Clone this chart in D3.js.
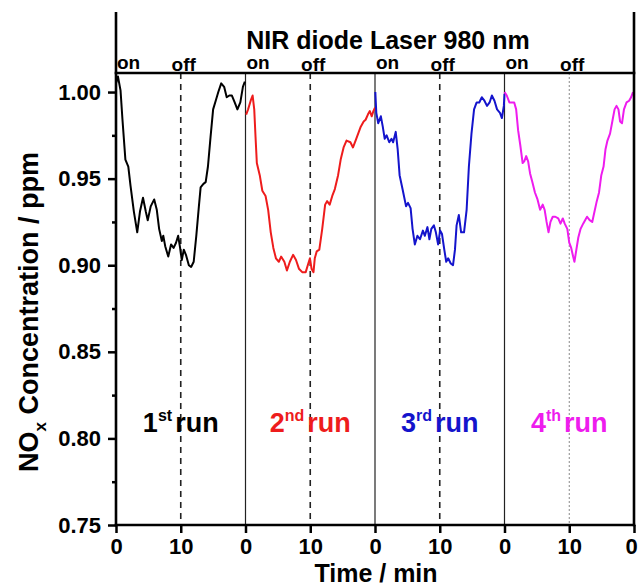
<!DOCTYPE html>
<html>
<head>
<meta charset="utf-8">
<script src="https://cdn.jsdelivr.net/npm/d3@7"></script>
<style>
  html, body { margin: 0; padding: 0; background: #fff; }
  svg text { font-family: Arial, "Liberation Sans", sans-serif; font-weight: bold; }
</style>
</head>
<body>
<svg id="chart" width="639" height="588"></svg>
<script>
// NOx concentration traces over four laser on/off cycles (t in min within each run)
const run1 = [[0,1.005],[0.3,1.009],[0.7,1.001],[1.0,0.984],[1.45,0.961],[1.9,0.957],[2.24,0.946],[2.76,0.931],
  [3.28,0.919],[3.7,0.931],[4.17,0.939],[4.6,0.931],[4.9,0.926],[5.36,0.934],[5.9,0.938],[6.3,0.932],
  [6.66,0.921],[7.08,0.914],[7.3,0.917],[7.6,0.911],[8.07,0.905],[8.5,0.912],[8.9,0.910],[9.27,0.913],
  [9.6,0.917],[9.9,0.910],[10.16,0.903],[10.47,0.909],[10.8,0.906],[11.25,0.900],[11.6,0.899],[12.0,0.902],
  [12.4,0.917],[12.8,0.934],[13.07,0.945],[13.5,0.947],[13.85,0.948],[14.2,0.957],[14.6,0.974],[15.0,0.990],
  [15.4,0.995],[15.8,1.000],[16.25,1.005],[16.7,1.003],[17.1,0.997],[17.5,0.998],[17.9,0.998],[18.33,0.994],
  [18.75,0.990],[19.2,0.994],[19.6,1.003],[19.9,1.006]];
const run2 = [[0.1,0.987],[0.4,0.990],[0.8,0.995],[1.1,0.998],[1.35,0.990],[1.55,0.974],[1.75,0.959],[2.2,0.952],
  [2.6,0.943],[3.1,0.940],[3.5,0.932],[3.9,0.919],[4.3,0.910],[4.7,0.904],[5.15,0.902],[5.5,0.905],
  [6.0,0.902],[6.4,0.897],[6.85,0.902],[7.35,0.906],[7.8,0.903],[8.25,0.898],[8.76,0.896],[9.3,0.896],
  [9.7,0.901],[9.95,0.904],[10.2,0.898],[10.5,0.896],[10.7,0.904],[11.0,0.908],[11.4,0.909],[11.85,0.921],
  [12.3,0.935],[12.6,0.937],[13.0,0.935],[13.4,0.940],[13.8,0.944],[14.3,0.952],[14.7,0.961],[15.15,0.968],
  [15.6,0.972],[16.2,0.971],[16.6,0.968],[17.0,0.972],[17.4,0.976],[17.8,0.980],[18.25,0.983],[18.55,0.984],
  [18.9,0.987],[19.2,0.989],[19.5,0.986],[19.75,0.989],[20.0,0.991]];
const run3 = [[0.05,1.000],[0.2,0.988],[0.5,0.982],[0.9,0.986],[1.2,0.980],[1.5,0.973],[1.8,0.975],[2.2,0.971],
  [2.55,0.973],[2.8,0.971],[3.2,0.977],[3.5,0.967],[3.8,0.952],[4.25,0.944],[4.8,0.934],[5.1,0.936],
  [5.5,0.933],[5.8,0.921],[6.15,0.912],[6.55,0.917],[6.95,0.915],[7.4,0.920],[7.7,0.917],[8.1,0.922],
  [8.4,0.915],[8.7,0.921],[9.1,0.923],[9.4,0.919],[9.75,0.912],[10.05,0.920],[10.35,0.918],[10.7,0.909],
  [11.0,0.902],[11.3,0.904],[11.7,0.901],[12.05,0.900],[12.35,0.909],[12.6,0.923],[12.95,0.929],[13.3,0.919],
  [13.75,0.919],[14.15,0.932],[14.5,0.957],[14.9,0.976],[15.3,0.990],[15.7,0.994],[16.1,0.994],[16.5,0.997],
  [16.9,0.995],[17.3,0.992],[17.7,0.994],[18.05,0.998],[18.45,0.995],[18.85,0.990],[19.3,0.988],[19.6,0.985],
  [19.9,0.992],[20.0,0.999]];
const run4 = [[0,1.000],[0.35,0.998],[0.75,0.994],[1.1,0.994],[1.5,0.994],[1.8,0.990],[2.1,0.978],[2.45,0.969],
  [2.8,0.959],[3.05,0.960],[3.35,0.963],[3.65,0.960],[3.95,0.953],[4.3,0.948],[4.7,0.942],[5.1,0.938],
  [5.5,0.932],[5.9,0.935],[6.2,0.932],[6.5,0.925],[6.8,0.919],[7.1,0.925],[7.45,0.928],[7.85,0.928],
  [8.3,0.927],[8.65,0.924],[9.0,0.927],[9.3,0.924],[9.7,0.921],[10.0,0.913],[10.3,0.910],[10.6,0.905],
  [10.8,0.902],[11.1,0.909],[11.4,0.916],[11.75,0.921],[12.15,0.924],[12.45,0.926],[12.75,0.928],[13.15,0.926],
  [13.55,0.925],[13.9,0.931],[14.25,0.937],[14.6,0.942],[14.95,0.952],[15.3,0.957],[15.6,0.967],[15.9,0.972],
  [16.3,0.976],[16.7,0.984],[17.0,0.990],[17.3,0.992],[17.6,0.990],[17.85,0.983],[18.15,0.982],[18.45,0.990],
  [18.85,0.994],[19.25,0.995],[19.55,0.997],[19.85,1.000]];

const runs = [run1, run2, run3, run4];
const runColors = ["#000000", "#ee1c1c", "#1414cc", "#ee1cee"];
const runOrdinals = ["1", "2", "3", "4"];
const runSuffixes = ["st", "nd", "rd", "th"];
const runDuration = 20;          // minutes per cycle
const offTime = 10;              // laser switched off at 10 min
const xTickValues = [0, 10, 20, 30, 40, 50, 60, 70, 80];
const xTickLabels = ["0", "10", "0", "10", "0", "10", "0", "10", "0"];
const yMajorTicks = [0.75, 0.80, 0.85, 0.90, 0.95, 1.00];
const yMinorTicks = [0.775, 0.825, 0.875, 0.925, 0.975];
const yMax = 1.011;

const svg = d3.select("#chart");
const left = 116, right = 634, bottom = 525, plotTop = 73, frameTop = 12;

const x = d3.scaleLinear().domain([0, runDuration * runs.length]).range([left, right]);
const y = d3.scaleLinear().domain([0.75, yMax]).range([bottom, plotTop]);

// run separators (solid) and laser-off markers (dashed)
for (let i = 1; i < runs.length; i++) {
  svg.append("line")
    .attr("x1", x(i * runDuration)).attr("x2", x(i * runDuration))
    .attr("y1", plotTop).attr("y2", bottom)
    .attr("stroke", "#222").attr("stroke-width", 1.2);
}
runs.forEach((r, i) => {
  const last = i === runs.length - 1;
  svg.append("line")
    .attr("x1", x(i * runDuration + offTime)).attr("x2", x(i * runDuration + offTime))
    .attr("y1", plotTop).attr("y2", bottom)
    .attr("stroke", last ? "#888" : "#222")
    .attr("stroke-width", last ? 1 : 1.6)
    .attr("stroke-dasharray", last ? "2,2" : "6,5");
});

// concentration traces
const line = d3.line()
  .x(d => d[0])
  .y(d => y(d[1]));
runs.forEach((r, i) => {
  const pts = r.map(d => [x(i * runDuration + d[0]), d[1]]);
  svg.append("path")
    .attr("d", line(pts))
    .attr("fill", "none")
    .attr("stroke", runColors[i])
    .attr("stroke-width", 2)
    .attr("stroke-linejoin", "round");
});

// axes
const yAxis = svg.append("g").attr("transform", `translate(${left},0)`)
  .call(d3.axisLeft(y).tickValues(yMajorTicks).tickFormat(d3.format(".2f")).tickSize(8).tickPadding(7));
const yMinor = svg.append("g").attr("transform", `translate(${left},0)`)
  .call(d3.axisLeft(y).tickValues(yMinorTicks).tickFormat("").tickSize(4));
const xAxis = svg.append("g").attr("transform", `translate(0,${bottom})`)
  .call(d3.axisBottom(x).tickValues(xTickValues).tickFormat((d, i) => xTickLabels[i]).tickSize(8).tickPadding(5));
[yAxis, yMinor, xAxis].forEach(g => {
  g.select(".domain").remove();
  g.selectAll(".tick line").attr("stroke", "#000").attr("stroke-width", 2.5);
  g.selectAll(".tick text").attr("fill", "#000").style("font-size", "22px");
});
// keep the final tick label inside the canvas
xAxis.selectAll(".tick text").filter((d, i) => i === xTickValues.length - 1).attr("dx", -3);

// frame
const frame = svg.append("g").attr("stroke", "#000").attr("stroke-width", 2.6).attr("fill", "none");
frame.append("line").attr("x1", left).attr("x2", left).attr("y1", frameTop).attr("y2", bottom + 1.3);
frame.append("line").attr("x1", right).attr("x2", right).attr("y1", frameTop).attr("y2", bottom + 1.3);
frame.append("line").attr("x1", left - 1.3).attr("x2", right + 1.3).attr("y1", bottom).attr("y2", bottom);
frame.append("line").attr("x1", left - 1.3).attr("x2", right + 1.3).attr("y1", plotTop).attr("y2", plotTop);

// header
svg.append("text").attr("x", 388).attr("y", 49)
  .attr("text-anchor", "middle").style("font-size", "25px").text("NIR diode Laser 980 nm");
runs.forEach((r, i) => {
  svg.append("text").attr("x", x(i * runDuration) + 1).attr("y", 69)
    .style("font-size", "19px").text("on");
  svg.append("text").attr("x", x(i * runDuration + offTime) + 3).attr("y", 71)
    .attr("text-anchor", "middle").style("font-size", "19px").text("off");
});

// run labels
runs.forEach((r, i) => {
  const t = svg.append("text").attr("x", x(i * runDuration + offTime)).attr("y", 432)
    .attr("text-anchor", "middle").attr("fill", runColors[i]).style("font-size", "27px");
  t.append("tspan").text(runOrdinals[i]);
  t.append("tspan").attr("dy", -11).style("font-size", "16px").text(runSuffixes[i]);
  t.append("tspan").attr("dy", 11).attr("dx", 3).text("run");
});

// axis titles
svg.append("text").attr("x", 376).attr("y", 582).attr("text-anchor", "middle")
  .style("font-size", "25px").text("Time / min");
const yt = svg.append("text").attr("transform", "translate(38,312) rotate(-90)")
  .attr("text-anchor", "middle").style("font-size", "27px");
yt.append("tspan").text("NO");
yt.append("tspan").attr("dy", 8).style("font-size", "17px").text("x");
yt.append("tspan").attr("dy", -8).text(" Concentration / ppm");
</script>
</body>
</html>
